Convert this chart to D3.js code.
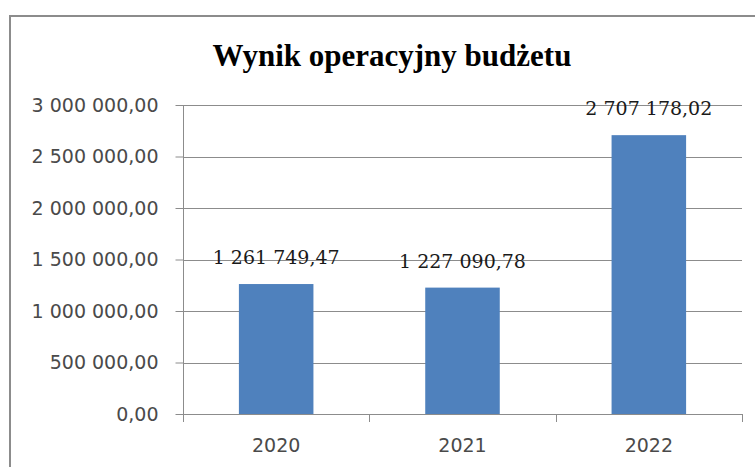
<!DOCTYPE html>
<html>
<head>
<meta charset="utf-8">
<script src="https://cdn.jsdelivr.net/npm/d3@7"></script>
<style>
  body { margin: 0; background: #fff; }
  svg { display: block; }
</style>
</head>
<body>
<div class="wrapper"></div>
<script>
// data
var years  = ['2020', '2021', '2022'];
var values = [1261749.47, 1227090.78, 2707178.02];
var yTicks = [0, 500000, 1000000, 1500000, 2000000, 2500000, 3000000];
var title  = 'Wynik operacyjny budżetu';

var W = 755, H = 467;
var margin = {top: 105, right: 13, bottom: 53, left: 183};

var fmt = function(v) {
  var s = v.toFixed(2).split('.');
  return s[0].replace(/\B(?=(\d{3})+(?!\d))/g, '\u00a0') + ',' + s[1];
};

var svg = d3.select('.wrapper').append('svg')
    .attr('width', W)
    .attr('height', H);

// outer frame (clipped at right / bottom)
svg.append('path')
    .attr('d', 'M10,' + (H + 2) + ' V16 H' + (W + 2))
    .attr('fill', 'none')
    .attr('stroke', '#8c8c8c')
    .attr('stroke-width', 2);

svg.append('text')
    .attr('x', 392)
    .attr('y', 66)
    .attr('text-anchor', 'middle')
    .style('font-family', '"Liberation Serif", serif')
    .style('font-weight', 'bold')
    .style('font-size', '31px')
    .attr('fill', '#000')
    .text(title);

var x = d3.scaleBand()
    .domain(years)
    .range([margin.left, W - margin.right])
    .paddingInner(0.6)
    .paddingOuter(0.3);

var y = d3.scaleLinear()
    .domain([0, 3000000])
    .range([H - margin.bottom, margin.top]);

// gridlines
svg.append('g').selectAll('line')
    .data(yTicks.slice(1))
    .enter().append('line')
    .attr('x1', margin.left)
    .attr('x2', W - margin.right)
    .attr('y1', d => Math.round(y(d)) + 0.5)
    .attr('y2', d => Math.round(y(d)) + 0.5)
    .attr('stroke', '#8c8c8c')
    .attr('stroke-width', 1);

// bars
svg.append('g').selectAll('rect')
    .data(values)
    .enter().append('rect')
    .attr('x', (d, i) => x(years[i]))
    .attr('y', d => y(d))
    .attr('width', x.bandwidth())
    .attr('height', d => y(0) - y(d))
    .attr('fill', '#4f81bd');

// y axis
var yAxis = d3.axisLeft(y)
    .tickValues(yTicks)
    .tickSize(8)
    .tickPadding(17)
    .tickFormat(fmt);

var gy = svg.append('g')
    .attr('transform', 'translate(' + (margin.left + 0.5) + ',0)')
    .call(yAxis);

// x axis: ticks at category boundaries
var step = x.step();
var bounds = d3.range(years.length + 1).map(i => margin.left + i * step);

var gx = svg.append('g');
gx.append('line')
    .attr('x1', margin.left)
    .attr('x2', W - margin.right)
    .attr('y1', Math.round(y(0)) + 0.5)
    .attr('y2', Math.round(y(0)) + 0.5)
    .attr('stroke', '#8c8c8c');
gx.selectAll('.xt')
    .data(bounds)
    .enter().append('line')
    .attr('class', 'xt')
    .attr('x1', d => Math.round(d) + 0.5)
    .attr('x2', d => Math.round(d) + 0.5)
    .attr('y1', Math.round(y(0)))
    .attr('y2', Math.round(y(0)) + 8)
    .attr('stroke', '#8c8c8c');
gx.selectAll('text')
    .data(years)
    .enter().append('text')
    .attr('x', d => x(d) + x.bandwidth() / 2)
    .attr('y', 452)
    .attr('text-anchor', 'middle')
    .style('font-family', '"DejaVu Sans", sans-serif')
    .style('font-size', '19px')
    .attr('fill', '#4a4a4a')
    .text(d => d);

gy.select('.domain').attr('stroke', '#8c8c8c').attr('d', 'M0,' + (Math.round(y(0)) + 8) + 'V' + margin.top);
gy.selectAll('.tick line').attr('stroke', '#8c8c8c');
gy.selectAll('.tick text')
    .style('font-family', '"DejaVu Sans", sans-serif')
    .style('font-size', '19px')
    .attr('fill', '#4a4a4a');

// value labels
svg.append('g').selectAll('text')
    .data(values)
    .enter().append('text')
    .attr('x', (d, i) => x(years[i]) + x.bandwidth() / 2)
    .attr('y', d => y(d) - 20)
    .attr('text-anchor', 'middle')
    .style('font-family', '"DejaVu Serif", serif')
    .style('font-size', '19px')
    .attr('fill', '#1a1a1a')
    .text(d => fmt(d));
</script>
</body>
</html>
